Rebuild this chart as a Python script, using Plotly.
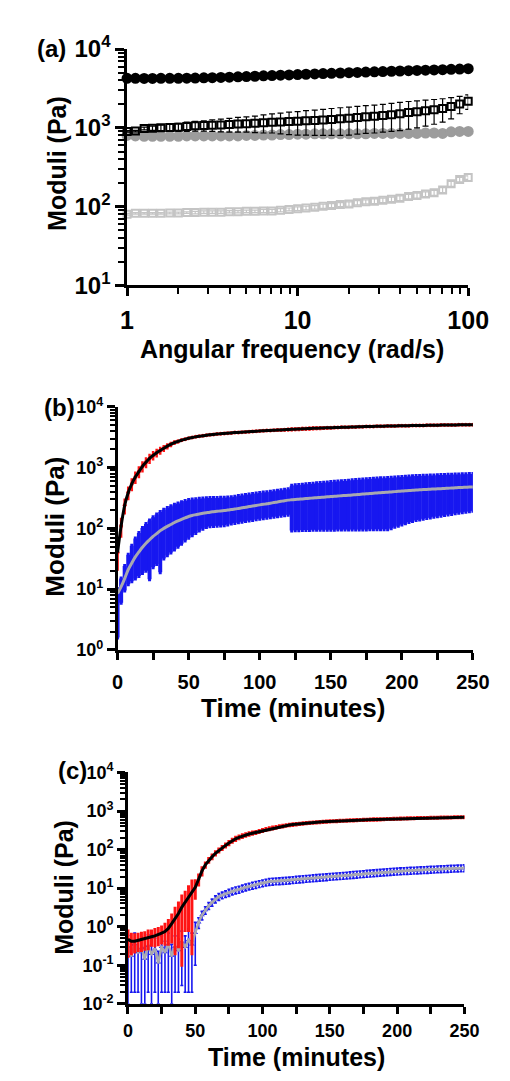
import plotly.graph_objects as go

FONT = "Arial, 'Liberation Sans', sans-serif"
BLUE = "#1717f0"
RED = "#ff1414"
GREY = "#9c9c9c"
LIGHT_GREY = "#c4c4c4"
LINE_GREY = "#a8a8b0"

# ---------------- (a) frequency sweep ----------------
FREQ = [1.00, 1.12, 1.26, 1.41, 1.58, 1.78, 2.00, 2.24, 2.51, 2.82,
        3.16, 3.55, 3.98, 4.47, 5.01, 5.62, 6.31, 7.08, 7.94, 8.91,
        10.0, 11.2, 12.6, 14.1, 15.8, 17.8, 20.0, 22.4, 25.1, 28.2,
        31.6, 35.5, 39.8, 44.7, 50.1, 56.2, 63.1, 70.8, 79.4, 89.1, 100.0]

# gel A storage / loss modulus
A_GP = [4250, 4250, 4240, 4240, 4250, 4250, 4260, 4270, 4290, 4310,
        4340, 4370, 4400, 4440, 4480, 4520, 4570, 4610, 4660, 4700,
        4750, 4790, 4830, 4880, 4920, 4970, 5010, 5060, 5100, 5150,
        5190, 5230, 5270, 5310, 5350, 5400, 5440, 5480, 5530, 5580, 5640]
A_GP_SD = [60, 60, 60, 60, 60, 60, 60, 60, 70, 70,
           70, 70, 80, 80, 80, 90, 90, 100, 100, 110,
           110, 120, 120, 130, 140, 140, 150, 160, 170, 180,
           190, 200, 220, 240, 260, 280, 300, 320, 340, 360, 380]
A_GPP = [900, 910, 980, 990, 1000, 1010, 1020, 1040, 1060, 1070,
         1080, 1090, 1100, 1120, 1130, 1140, 1160, 1180, 1190, 1200,
         1210, 1230, 1240, 1260, 1280, 1300, 1320, 1350, 1380, 1400,
         1430, 1470, 1510, 1560, 1600, 1650, 1700, 1760, 1860, 2010, 2170]
A_GPP_SD = [20, 20, 40, 60, 80, 100, 120, 140, 150, 160,
            180, 200, 220, 240, 250, 270, 300, 320, 350, 380,
            400, 420, 440, 460, 480, 500, 510, 520, 530, 540,
            550, 570, 590, 600, 600, 600, 590, 580, 560, 500, 450]

# gel B storage / loss modulus
B_GP_A = [800, 790, 780, 780, 780, 780, 780, 790, 790, 790,
          790, 790, 790, 790, 800, 800, 810, 810, 820, 820,
          830, 830, 840, 840, 840, 840, 840, 840, 840, 850,
          850, 850, 850, 850, 850, 860, 860, 850, 890, 900, 900]
B_GP_A_SD = [30, 30, 30, 30, 30, 30, 30, 30, 30, 30,
             30, 30, 30, 30, 35, 35, 35, 35, 40, 40,
             40, 40, 40, 40, 45, 45, 45, 45, 50, 50,
             50, 50, 50, 50, 55, 55, 60, 70, 40, 40, 40]
B_GPP_A = [80, 82, 82, 82, 82, 83, 83, 84, 84, 85,
           85, 85, 86, 86, 87, 87, 88, 88, 90, 92,
           94, 96, 98, 101, 103, 106, 108, 112, 115, 117,
           120, 124, 128, 134, 138, 144, 150, 162, 195, 220, 234]
B_GPP_A_SD = [2, 2, 2, 2, 2, 2, 2, 2, 3, 3,
              3, 3, 3, 3, 3, 3, 4, 4, 4, 4,
              5, 5, 5, 6, 6, 6, 7, 7, 7, 8,
              8, 8, 9, 9, 10, 10, 11, 12, 14, 14, 12]

# ---------------- (b), (c) time sweeps, one reading every 2.5 min ----------------
TIME = [2.5 * i for i in range(101)]

B_G1 = [40, 110, 240, 390, 540, 700, 860, 1050, 1230, 1420,
        1590, 1760, 1920, 2080, 2260, 2420, 2580, 2700, 2820, 2930,
        3050, 3130, 3210, 3280, 3350, 3410, 3470, 3520, 3570, 3610,
        3650, 3690, 3730, 3770, 3800, 3840, 3870, 3900, 3930, 3960,
        4020, 4050, 4080, 4100, 4130, 4160, 4180, 4210, 4240, 4270,
        4300, 4320, 4350, 4380, 4400, 4430, 4450, 4470, 4500, 4520,
        4540, 4560, 4580, 4600, 4620, 4640, 4660, 4680, 4700, 4720,
        4740, 4750, 4770, 4790, 4800, 4820, 4830, 4850, 4860, 4870,
        4880, 4900, 4910, 4920, 4930, 4940, 4950, 4970, 4980, 4990,
        5000, 5010, 5020, 5030, 5040, 5050, 5060, 5070, 5080, 5085, 5090]
B_G1_SD = [20, 40, 70, 100, 130, 160, 190, 220, 250, 270,
           280, 290, 290, 280, 270, 250, 230, 210, 190, 170,
           150, 140, 130, 120, 110, 110, 100, 100, 100, 100,
           100, 100, 100, 100, 100, 110, 110, 110, 120, 120,
           130, 140, 150, 170, 190, 220, 250, 280, 300, 320,
           330, 340, 350, 350, 350, 350, 340, 330, 320, 300,
           280, 260, 240, 220, 200, 180, 160, 150, 140, 130,
           120, 110, 100, 100, 100, 100, 100, 100, 100, 100,
           100, 100, 100, 100, 100, 100, 100, 100, 100, 100,
           100, 100, 100, 100, 100, 100, 100, 100, 100, 100, 100]
B_G2 = [8.5, 11, 15, 21, 27, 34, 41, 49, 57, 65,
        74, 82, 92, 100, 108, 116, 125, 133, 141, 149,
        157, 163, 168, 173, 177, 181, 185, 188, 191, 194,
        197, 200, 204, 208, 213, 218, 223, 229, 234, 239,
        244, 249, 254, 260, 266, 272, 279, 286, 292, 296,
        300, 303, 306, 310, 313, 317, 320, 324, 327, 331,
        334, 338, 341, 345, 348, 351, 355, 359, 363, 367,
        371, 375, 379, 383, 387, 391, 395, 399, 403, 407,
        411, 415, 420, 424, 428, 431, 435, 438, 441, 445,
        448, 451, 455, 458, 462, 465, 469, 472, 475, 479, 482]
B_G2_HI = [10, 15, 24, 37, 52, 68, 84, 102, 118, 135,
           152, 170, 187, 202, 217, 231, 245, 258, 270, 282,
           292, 298, 303, 307, 310, 313, 315, 316, 317, 318,
           320, 323, 327, 333, 340, 347, 353, 360, 367, 374,
           381, 388, 395, 402, 410, 417, 425, 433, 442, 505,
           512, 518, 525, 531, 538, 545, 551, 558, 565, 571,
           578, 585, 591, 598, 605, 611, 618, 624, 630, 636,
           642, 648, 654, 660, 666, 672, 678, 684, 690, 697,
           703, 709, 716, 722, 726, 730, 734, 738, 741, 745,
           749, 753, 757, 761, 764, 768, 772, 776, 780, 784, 787]
B_G2_LO = [1.6, 6, 9.5, 12, 13.5, 15, 16.5, 18.5, 20, 14.5,
           23, 26, 19, 32, 36, 40, 45, 50, 56, 63,
           70, 77, 84, 92, 99, 105, 108, 110, 111, 112,
           113, 116, 120, 123, 126, 129, 132, 135, 138, 141,
           144, 147, 150, 153, 156, 159, 162, 165, 168, 92,
           93, 93, 94, 94, 94, 95, 95, 95, 95, 95,
           95, 95, 96, 96, 96, 96, 96, 96, 96, 96,
           96, 97, 97, 97, 97, 97, 97, 101, 106, 111,
           116, 121, 127, 132, 137, 140, 144, 148, 151, 155,
           158, 162, 166, 170, 173, 177, 181, 185, 188, 192, 196]

C_G1 = [0.47, 0.42, 0.42, 0.44, 0.46, 0.48, 0.52, 0.55, 0.58, 0.62,
        0.68, 0.75, 0.90, 1.2, 1.6, 2.2, 3.2, 4.3, 5.8, 7.8,
        10.5, 17, 28, 40, 53, 65, 80, 95, 110, 128,
        148, 170, 190, 208, 225, 240, 254, 266, 278, 295,
        313, 330, 347, 363, 378, 393, 407, 421, 433, 444,
        455, 465, 475, 484, 493, 501, 509, 517, 524, 531,
        537, 543, 549, 554, 559, 564, 569, 574, 579, 584,
        588, 593, 597, 601, 605, 609, 614, 618, 622, 626,
        631, 635, 639, 644, 648, 652, 655, 658, 660, 663,
        666, 668, 671, 674, 677, 679, 682, 685, 687, 690, 692]
C_G1_SD = [0.30, 0.22, 0.20, 0.20, 0.22, 0.22, 0.25, 0.22, 0.26, 0.28,
           0.30, 0.40, 0.55, 0.80, 1.40, 1.90, 3.10, 3.50, 5.00, 7.60,
           5.0, 5.0, 6.0, 5.0, 6.0, 7.0, 8.0, 9.0, 10, 12,
           14, 16, 18, 18, 18, 18, 18, 18, 18, 18,
           20, 20, 20, 20, 20, 20, 20, 20, 20, 20,
           20, 20, 20, 20, 20, 20, 20, 20, 20, 20,
           20, 20, 20, 20, 20, 20, 20, 20, 20, 20,
           20, 22, 25, 25, 25, 22, 20, 20, 20, 20,
           20, 20, 20, 20, 20, 20, 20, 20, 20, 20,
           20, 20, 20, 20, 20, 20, 20, 20, 20, 20, 20]
C_G2 = [0.30, 0.18, 0.35, 0.22, 0.28, 0.15, 0.32, 0.20, 0.26, 0.12,
        0.30, 0.22, 0.35, 0.18, 0.30, 0.25, 0.40, 0.30, 0.45, 0.35,
        0.70, 1.3, 2.0, 2.7, 3.5, 4.3, 5.2, 6.0, 6.6, 7.1,
        7.7, 8.4, 8.9, 9.3, 10.0, 10.6, 11.2, 11.8, 12.3, 13.0,
        13.6, 14.2, 14.8, 15.0, 15.2, 15.4, 15.6, 15.8, 16.1, 16.5,
        16.8, 17.1, 17.4, 17.7, 18.0, 18.4, 18.7, 19.0, 19.3, 19.6,
        20.0, 20.3, 20.6, 20.9, 21.2, 21.6, 22.0, 22.4, 22.8, 23.2,
        23.6, 24.0, 24.4, 24.8, 25.2, 25.6, 26.0, 26.4, 26.8, 27.2,
        27.5, 27.9, 28.2, 28.5, 28.8, 29.1, 29.4, 29.7, 30.0, 30.3,
        30.6, 30.9, 31.2, 31.5, 31.8, 32.1, 32.4, 32.7, 33.0, 33.2, 33.5]
C_G2_SD = [0.29, 0.16, 0.33, 0.20, 0.27, 0.14, 0.30, 0.19, 0.24, 0.11,
           0.28, 0.20, 0.33, 0.17, 0.28, 0.23, 0.37, 0.28, 0.43, 0.33,
           0.60, 0.40, 0.50, 0.60, 0.70, 0.90, 1.1, 1.2, 1.3, 1.4,
           1.6, 1.7, 1.8, 1.9, 2.0, 2.1, 2.2, 2.4, 2.5, 2.6,
           2.7, 2.8, 3.0, 3.0, 3.0, 3.1, 3.1, 3.2, 3.2, 3.3,
           3.4, 3.4, 3.5, 3.5, 3.6, 3.7, 3.7, 3.8, 3.9, 3.9,
           4.0, 4.1, 4.1, 4.2, 4.2, 4.3, 4.4, 4.5, 4.6, 4.6,
           4.7, 4.8, 4.9, 5.0, 5.0, 5.1, 5.2, 5.3, 5.4, 5.4,
           5.5, 5.6, 5.6, 5.7, 5.8, 5.8, 5.9, 5.9, 6.0, 6.1,
           6.1, 6.2, 6.2, 6.3, 6.4, 6.4, 6.5, 6.5, 6.6, 6.6, 6.7]

TIME_LABELS = [0, 50, 100, 150, 200, 250]


def log_minor(lo, hi):
    return [k * 10.0 ** e for e in range(lo, hi) for k in range(2, 10)]


def pow_labels(lo, hi):
    return [f"<b>10<sup>{e}</sup></b>" for e in range(lo, hi + 1)]


def base_axis(**kw):
    d = dict(showgrid=False, zeroline=False, showline=True, linecolor="black",
             linewidth=2.5, ticks="outside", tickcolor="black", tickwidth=2.5,
             mirror=False, fixedrange=True)
    d.update(kw)
    return d


def log_y(lo, hi, domain, anchor, size, ticklen, minorlen):
    return base_axis(
        type="log", range=[lo, hi], domain=domain, anchor=anchor,
        tickmode="array", tickvals=[10.0 ** e for e in range(lo, hi + 1)],
        ticktext=pow_labels(lo, hi), ticklen=ticklen,
        tickfont=dict(family=FONT, size=size, color="black"),
        minor=dict(ticks="outside", ticklen=minorlen, tickwidth=1.8,
                   tickcolor="black", tickmode="array",
                   tickvals=log_minor(lo, hi), showgrid=False))


def time_x(domain, anchor, size, standoff):
    return base_axis(
        range=[0, 250], domain=domain, anchor=anchor, tickmode="array",
        tickvals=TIME_LABELS, ticktext=[f"<b>{t}</b>" for t in TIME_LABELS],
        ticklen=7, ticklabelstandoff=standoff,
        tickfont=dict(family=FONT, size=size, color="black"),
        minor=dict(ticks="outside", ticklen=7, tickwidth=2.5, tickcolor="black",
                   tickmode="linear", tick0=0, dtick=25, showgrid=False))


fig = go.Figure()

# ---- (a) ----
def freq_trace(y, sd, symbol, color, size):
    return go.Scatter(
        x=FREQ, y=y, mode="markers", xaxis="x", yaxis="y", cliponaxis=False,
        marker=dict(symbol=symbol, size=size, color=color,
                    line=dict(width=2, color=color)),
        error_y=dict(type="data", array=sd, color=color, thickness=1.2, width=3),
        showlegend=False)

fig.add_trace(freq_trace(B_GPP_A, B_GPP_A_SD, "square-open", LIGHT_GREY, 7))
fig.add_trace(freq_trace(B_GP_A, B_GP_A_SD, "circle", GREY, 9))
fig.add_trace(freq_trace(A_GPP, A_GPP_SD, "square-open", "black", 7))
fig.add_trace(freq_trace(A_GP, A_GP_SD, "circle", "black", 9))

# ---- (b) ----
fig.add_trace(go.Scatter(
    x=TIME, y=B_G2, mode="markers", xaxis="x2", yaxis="y2",
    marker=dict(size=2, color=BLUE),
    error_y=dict(type="data", symmetric=False,
                 array=[h - m for h, m in zip(B_G2_HI, B_G2)],
                 arrayminus=[m - l for m, l in zip(B_G2, B_G2_LO)],
                 color=BLUE, thickness=4, width=1.5),
    showlegend=False))
fig.add_trace(go.Scatter(x=TIME, y=B_G2, mode="lines", xaxis="x2", yaxis="y2",
                         line=dict(color=LINE_GREY, width=3, shape="spline"),
                         showlegend=False))
fig.add_trace(go.Scatter(
    x=TIME, y=B_G1, mode="markers", xaxis="x2", yaxis="y2",
    marker=dict(size=4, color=RED),
    error_y=dict(type="data", array=B_G1_SD, color=RED, thickness=2.5, width=0),
    showlegend=False))
fig.add_trace(go.Scatter(x=TIME, y=B_G1, mode="lines", xaxis="x2", yaxis="y2",
                         line=dict(color="black", width=3, shape="spline"),
                         showlegend=False))

# ---- (c) ----
fig.add_trace(go.Scatter(
    x=TIME, y=C_G2, mode="markers", xaxis="x3", yaxis="y3",
    marker=dict(size=5, color=BLUE, symbol="triangle-up"),
    error_y=dict(type="data", array=C_G2_SD, color=BLUE, thickness=1.6, width=1.5),
    showlegend=False))
fig.add_trace(go.Scatter(x=TIME, y=C_G2, mode="lines+markers", xaxis="x3", yaxis="y3",
                         line=dict(color=LINE_GREY, width=2.5),
                         marker=dict(size=3, color=LINE_GREY), showlegend=False))
fig.add_trace(go.Scatter(
    x=TIME, y=C_G1, mode="markers", xaxis="x3", yaxis="y3",
    marker=dict(size=3, color=RED),
    error_y=dict(type="data", array=C_G1_SD, color=RED, thickness=3, width=1.5),
    showlegend=False))
fig.add_trace(go.Scatter(x=TIME, y=C_G1, mode="lines", xaxis="x3", yaxis="y3",
                         line=dict(color="black", width=3), showlegend=False))

W, H = 510, 1081


def px_x(a, b):
    return [a / W, b / W]


def px_y(top, bottom):
    return [1 - bottom / H, 1 - top / H]


fig.update_layout(
    width=W, height=H, autosize=False,
    margin=dict(l=0, r=0, t=0, b=0),
    paper_bgcolor="white", plot_bgcolor="white",
    font=dict(family=FONT, color="black"),
    xaxis=base_axis(type="log", range=[0, 2], domain=px_x(127, 488), anchor="y",
                    tickmode="array", tickvals=[1, 10, 100],
                    ticktext=["<b>1</b>", "<b>10</b>", "<b>100</b>"], ticklen=8,
                    ticklabelstandoff=3,
                    tickfont=dict(family=FONT, size=25, color="black"),
                    minor=dict(ticks="outside", ticklen=6, tickwidth=1.8,
                               tickcolor="black", tickmode="array",
                               tickvals=log_minor(0, 2), showgrid=False)),
    yaxis=log_y(1, 4, px_y(33, 276), "x", 24, 9, 6),
    xaxis2=time_x(px_x(117, 493), "y2", 20, 5),
    yaxis2=log_y(0, 4, px_y(401, 651), "x2", 18, 8, 5),
    xaxis3=time_x(px_x(128, 484), "y3", 18, 2),
    yaxis3=log_y(-2, 4, px_y(777, 1015), "x3", 18, 8, 5),
)


def label(text, x, y, size, angle=0):
    fig.add_annotation(text=f"<b>{text}</b>", x=x / W, y=1 - y / H,
                       xref="paper", yref="paper", showarrow=False,
                       xanchor="center", yanchor="middle", textangle=angle,
                       font=dict(family=FONT, size=size, color="black"))


label("(a)", 47, 32, 24)
label("Moduli (Pa)", 53, 151, 25, -90)
label("Angular frequency (rad/s)", 302, 341, 25)

label("(b)", 56, 402, 24)
label("Moduli (Pa)", 51, 524, 26, -90)
label("Time (minutes)", 303, 711, 26)

label("(c)", 69, 775, 24)
label("Moduli (Pa)", 61, 895, 25, -90)
label("Time (minutes)", 306, 1070, 25)

fig.write_html("out.html")
